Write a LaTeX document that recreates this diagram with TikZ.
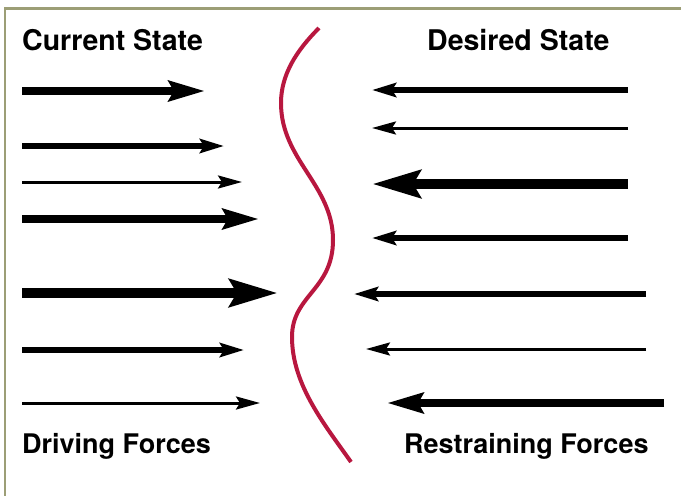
\documentclass[tikz,border=0pt]{standalone}
\usepackage{fontspec}
\setmainfont{TeX Gyre Heros}
\usetikzlibrary{arrows.meta}
\definecolor{frameol}{HTML}{9C9E76}
\definecolor{wavered}{HTML}{B8173F}
\tikzset{
  lbl/.style={inner sep=0pt, anchor=base west, font=\fontsize{27}{32}\selectfont\bfseries},
  toplbl/.style={lbl, font=\fontsize{28.5}{33}\selectfont\bfseries},
  heavyarr/.style={line width=10.5pt, -{Stealth[length=48pt, width=27pt, inset=7pt]}},
  thickarr/.style={line width=8pt, -{Stealth[length=36pt, width=20pt, inset=5pt]}},
  medarr/.style={line width=5.5pt, -{Stealth[length=24pt, width=14pt, inset=4pt]}},
  thinarr/.style={line width=3pt, -{Stealth[length=24pt, width=13pt, inset=4pt]}},
  frameline/.style={draw=frameol, line width=2.5pt},
  wave/.style={draw=wavered, line width=4pt}
}
\begin{document}
\begin{tikzpicture}[x=1pt, y=-1pt]
\useasboundingbox (0,0) rectangle (681,496);
% frame (top and left only)
\coordinate (fTR) at (681,8.5);
\coordinate (fTL) at (5,8.5);
\coordinate (fBL) at (5,496);
\draw[frameline] (fTR) -- (fTL) -- (fBL);
% labels
\node[toplbl] (cs) at (22,50) {Current State};
\node[toplbl] (ds) at (427,50) {Desired State};
\node[lbl] (df) at (22,453) {Driving Forces};
\node[lbl] (rf) at (404,453) {Restraining Forces};
% wave
\coordinate (w0) at (319,28);
\coordinate (w1) at (281,103);
\coordinate (w2) at (333,240);
\coordinate (w3) at (292,337);
\coordinate (w4) at (351,462);
\draw[wave] (w0) .. controls (296,51) and (281,75) .. (w1)
  .. controls (281,160) and (333,185) .. (w2)
  .. controls (333,290) and (292,295) .. (w3)
  .. controls (292,385) and (325,425) .. (w4);
% driving forces
\coordinate (l1a) at (22,91);  \coordinate (l1b) at (205,91);
\coordinate (l2a) at (22,146); \coordinate (l2b) at (224,146);
\coordinate (l3a) at (22,182); \coordinate (l3b) at (242,182);
\coordinate (l4a) at (22,219); \coordinate (l4b) at (259,219);
\coordinate (l5a) at (22,293); \coordinate (l5b) at (278,293);
\coordinate (l6a) at (22,350); \coordinate (l6b) at (244,350);
\coordinate (l7a) at (22,403); \coordinate (l7b) at (260,403);
\draw[thickarr] (l1a) -- (l1b);
\draw[medarr]   (l2a) -- (l2b);
\draw[thinarr]  (l3a) -- (l3b);
\draw[thickarr] (l4a) -- (l4b);
\draw[heavyarr] (l5a) -- (l5b);
\draw[medarr]   (l6a) -- (l6b);
\draw[thinarr]  (l7a) -- (l7b);
% restraining forces
\coordinate (r1a) at (628,90);  \coordinate (r1b) at (372,90);
\coordinate (r2a) at (628,128); \coordinate (r2b) at (372,128);
\coordinate (r3a) at (628,184); \coordinate (r3b) at (372,184);
\coordinate (r4a) at (628,238); \coordinate (r4b) at (372,238);
\coordinate (r5a) at (646,294); \coordinate (r5b) at (354,294);
\coordinate (r6a) at (646,349); \coordinate (r6b) at (366,349);
\coordinate (r7a) at (664,403); \coordinate (r7b) at (387,403);
\draw[medarr]   (r1a) -- (r1b);
\draw[thinarr]  (r2a) -- (r2b);
\draw[heavyarr] (r3a) -- (r3b);
\draw[medarr]   (r4a) -- (r4b);
\draw[medarr]   (r5a) -- (r5b);
\draw[thinarr]  (r6a) -- (r6b);
\draw[thickarr] (r7a) -- (r7b);
\end{tikzpicture}
\end{document}
